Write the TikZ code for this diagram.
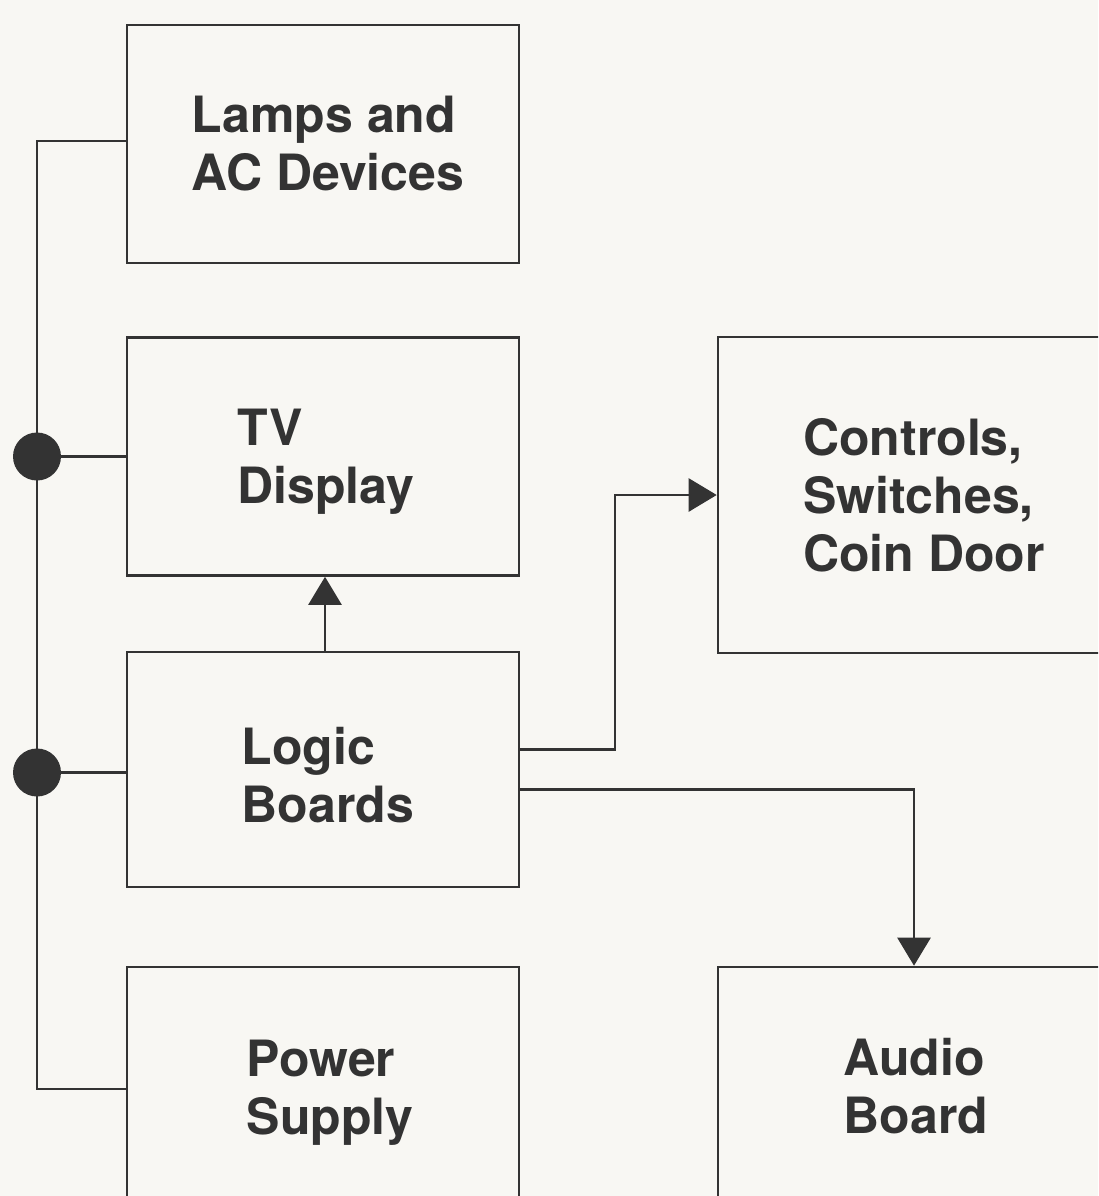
\documentclass[tikz,border=0pt]{standalone}
\usepackage{fontspec}
\setmainfont{TeX Gyre Heros}
\usetikzlibrary{arrows.meta}
\definecolor{ink}{HTML}{333333}
\definecolor{paper}{HTML}{F8F7F3}
\tikzset{
  blk/.style={draw=ink, line width=2.6pt, minimum width=392pt, minimum height=238pt, inner sep=0pt},
  txt/.style={inner sep=0pt, align=left, text=ink, font=\fontsize{50}{58}\selectfont\bfseries},
  wire/.style={draw=ink, line width=2.6pt},
  arr/.style={wire, -{Triangle[length=28pt,width=33pt]}},
  dot/.style={circle, fill=ink, minimum size=48pt, inner sep=0pt}
}
\begin{document}
\begin{tikzpicture}[x=1pt,y=-1pt]
\fill[paper] (0,0) rectangle (1098,1196);
\useasboundingbox (0,0) rectangle (1098,1196);
\clip (0,0) rectangle (1098,1196);
\node[blk] (lamps) at (323,144) {};
\node[blk] (tv) at (323,456.5) {};
\node[blk, minimum height=235pt] (logic) at (323,769.5) {};
\node[blk] (power) at (323,1086) {};
\node[blk, minimum height=316pt] (controls) at (914,495) {};
\node[blk] (audio) at (914,1086) {};
\node[txt] (lamps-t) at ([shift={(5,0)}]lamps.center) {Lamps and\\AC Devices};
\node[txt] (tv-t) at ([shift={(3,5)}]tv.center) {TV\\Display};
\node[txt] (logic-t) at ([shift={(5,6)}]logic.center) {Logic\\Boards};
\node[txt] (power-t) at ([shift={(7,7)}]power.center) {Power\\Supply};
\node[txt] (controls-t) at ([shift={(10,0)}]controls.center) {Controls,\\Switches,\\Coin Door};
\node[txt] (audio-t) at ([shift={(2,0)}]audio.center) {Audio\\Board};
\coordinate (bus) at (37,0);
\coordinate (j1) at (615,0);
\coordinate (pa) at ([yshift=3pt]lamps.west);
\coordinate (pb) at (tv.west);
\coordinate (pc) at ([yshift=-3pt]logic.west);
\coordinate (pd) at ([yshift=-3pt]power.west);
\draw[wire] (pa) -| (bus |- pd) -- (pd);
\draw[wire] (pb) -- (bus |- pb);
\draw[wire] (pc) -- (bus |- pc);
\node[dot] (d1) at (bus |- pb) {};
\node[dot] (d2) at (bus |- pc) {};
\draw[arr] ([xshift=2pt]logic.north) -- ([xshift=2pt]tv.south);
\draw[arr] ([yshift=20pt]logic.east) -| (j1 |- controls.west) -- (controls.west);
\draw[arr] ([yshift=-20pt]logic.east) -| (audio.north);
\end{tikzpicture}
\end{document}
